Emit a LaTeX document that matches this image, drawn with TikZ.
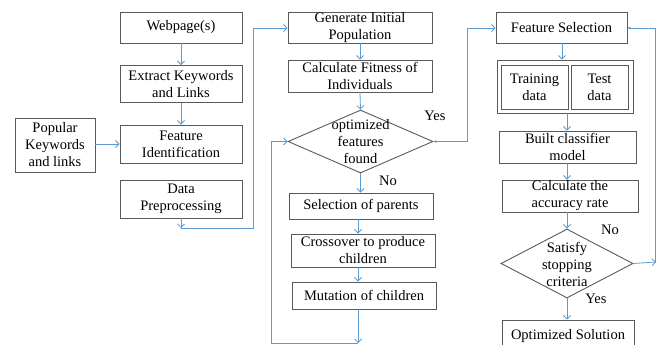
\documentclass[tikz,border=0pt]{standalone}
\usepackage{fontspec}
\setmainfont{Liberation Serif}
\newfontfamily\tnr{Liberation Serif}
\usetikzlibrary{shapes.geometric,arrows.meta}
\definecolor{conn}{RGB}{91,155,213}
\definecolor{edge}{RGB}{90,90,90}
\tikzset{
  box/.style={draw=edge, line width=0.9pt, align=center, inner sep=0pt, text=black,
    font=\tnr\fontsize{14.5}{17}\selectfont},
  dia/.style={draw=edge, line width=0.9pt, diamond, inner sep=0pt},
  txt/.style={align=center, inner sep=0pt, font=\tnr\fontsize{14.5}{17}\selectfont},
  con/.style={draw=conn, line width=0.8pt},
  arr/.style={con, -{Straight Barb[length=3.5pt,width=7pt]}},
  dotarr/.style={con, -{Latex[length=3pt,width=3pt]}},
}
\begin{document}
\begin{tikzpicture}[x=1pt,y=-1pt]
\useasboundingbox (0,0) rectangle (670,345);
\clip (0,0) rectangle (670,345);
% column 1
\node[box, minimum width=122, minimum height=31] (web) at (181,27.5) {Webpage(s)};
\node[box, minimum width=122, minimum height=37] (ext) at (181,84) {Extract Keywords\\and Links};
\node[box, minimum width=122, minimum height=38] (fid) at (181,144) {Feature\\Identification};
\node[box, minimum width=122, minimum height=38] (pre) at (181,199) {Data\\Preprocessing};
\node[box, minimum width=80, minimum height=54] (pop) at (55,145) {Popular\\Keywords\\and links};
% column 2
\node[box, minimum width=144, minimum height=31] (gen) at (360,27.5) {Generate Initial\\Population};
\node[box, minimum width=144, minimum height=32] (fit) at (360,76) {Calculate Fitness of\\Individuals};
\node[dia, minimum width=145, minimum height=63] (d1) at (360.5,141.5) {};
\node[txt] (d1t) at (360.5,142) {optimized\\features\\found};
\node[box, minimum width=144, minimum height=26] (sel) at (361,206) {Selection of parents};
\node[box, minimum width=144, minimum height=33] (cro) at (363,250.5) {Crossover to produce\\children};
\node[box, minimum width=144, minimum height=27] (mut) at (364,295.5) {Mutation of children};
% column 3
\node[box, minimum width=131, minimum height=31] (fs) at (561.5,27.5) {Feature Selection};
\node[box, minimum width=136, minimum height=53] (outer) at (565,86.5) {};
\node[box, minimum width=67, minimum height=44] (train) at (534.5,87) {Training\\data};
\node[box, minimum width=57, minimum height=44] (test) at (599.5,87) {Test\\data};
\node[box, minimum width=137, minimum height=32] (blt) at (567.5,147) {Built classifier\\model};
\node[box, minimum width=136, minimum height=32] (acc) at (570,196) {Calculate the\\accuracy rate};
\node[dia, minimum width=132, minimum height=69] (d2) at (567,263.5) {};
\node[txt] (d2t) at (567,264) {Satisfy\\stopping\\criteria};
\node[box, minimum width=132, minimum height=32] (opt) at (568,336) {Optimized Solution};
% labels
\node[txt] (yes1) at (435,116) {Yes};
\node[txt] (no1) at (388,181) {No};
\node[txt] (no2) at (610,230) {No};
\node[txt] (yes2) at (596,299) {Yes};
% coordinates
\coordinate (c1) at (181,228);
\coordinate (c2) at (358,343);
\coordinate (c3) at (656,262);
% connectors col 1
\draw[arr] (web.south) -- (ext.north);
\draw[arr] (ext.south) -- (fid.north);
\draw[arr] (pop.east |- fid.west) -- (fid.west);
\draw[arr] (pre.south) -- (c1);
\draw[con] (c1) -- (253,228) -- (253,28);
\draw[arr] (253,28) -- (gen.west |- 0,28);
% col 2
\draw[arr] (gen.south) -- (fit.north);
\draw[arr] (fit.south) -- (d1.north);
\draw[arr] (d1.south) -- (sel.north -| d1.south);
\draw[arr] (sel.south -| 358,0) -- (cro.north -| 358,0);
\draw[arr] (cro.south -| 358,0) -- (mut.north -| 358,0);
\draw[arr] (mut.south -| 358,0) -- (c2);
\draw[con] (c2) -- (271,343) -- (271,141.5);
\draw[arr] (271,141.5) -- (d1.west);
\draw[con, {Latex[length=3pt,width=3pt]}-] (d1.east) -- (467,141.5) -- (467,28);
\draw[arr] (467,28) -- (fs.west |- 0,28);
% col 3
\draw[arr] (fs.south -| 562,0) -- (outer.north -| 562,0);
\draw[arr] (outer.south -| 567,0) -- (blt.north -| 567,0);
\draw[arr] (blt.south -| 567,0) -- (acc.north -| 567,0);
\draw[arr] (acc.south -| 567,0) -- (d2.north);
\draw[arr] (d2.south) -- (opt.north -| d2.south);
\draw[arr] (d2.east) -- (c3);
\draw[dotarr] (c3) -- (655,262) -- (655,28) -- (fs.east |- 0,28);
\end{tikzpicture}
\end{document}
